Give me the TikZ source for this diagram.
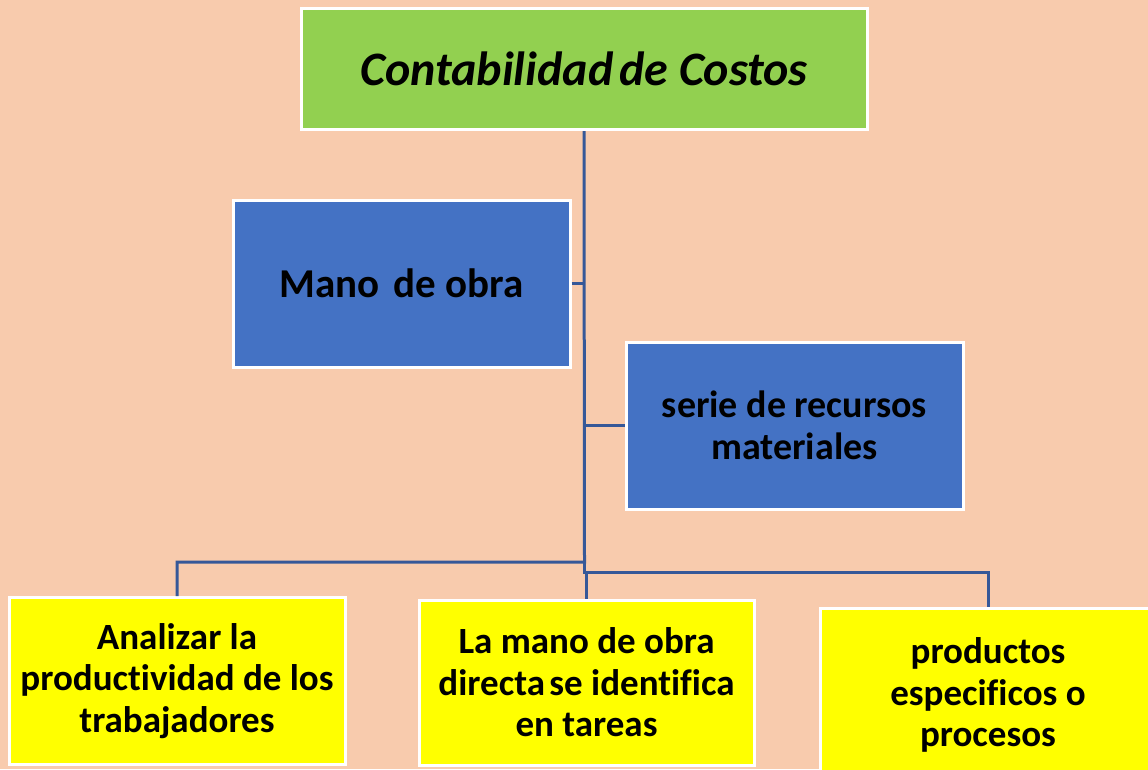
\documentclass[tikz,border=0pt]{standalone}
\usepackage{fontspec}
\setmainfont[Ligatures=NoCommon]{Carlito}
\definecolor{bgpeach}{RGB}{248,203,173}
\definecolor{titlegreen}{RGB}{146,208,80}
\definecolor{boxblue}{RGB}{68,114,196}
\definecolor{boxyellow}{RGB}{255,255,0}
\definecolor{linkblue}{RGB}{54,88,152}
\tikzset{
  card/.style={draw=white, line width=3pt, rectangle, inner sep=0pt, align=center, font=\bfseries},
  titlecard/.style={card, fill=titlegreen, minimum width=566pt, minimum height=121pt,
     font=\bfseries\itshape\fontsize{48}{54}\selectfont},
  bluecard/.style={card, fill=boxblue, minimum width=337pt, minimum height=167pt},
  yellowcard/.style={card, fill=boxyellow, minimum width=336pt, minimum height=167pt,
     font=\bfseries\fontsize{37}{41.5}\selectfont},
  link/.style={draw=linkblue, line width=3pt}
}
\begin{document}
\begin{tikzpicture}[x=1pt,y=-1pt]
\useasboundingbox (0,0) rectangle (1148,769);
\clip (0,0) rectangle (1148,769);
\fill[bgpeach] (0,0) rectangle (1148,769);

\node[titlecard] (title) at (584,69) {Contabilidad\hspace{0.12em}de Costos};
\node[bluecard, font=\bfseries\fontsize{41}{46}\selectfont] (mano) at (401.5,283.5) {Mano\hspace{0.12em} de obra};
\node[bluecard, font=\bfseries\fontsize{38}{42}\selectfont] (serie) at (794.5,425.5) {serie de recursos\\materiales};
\node[yellowcard] (y1) at (177,681) {Analizar la\\productividad de los\\trabajadores};
\node[yellowcard, minimum width=335pt, minimum height=165pt] (y2) at (586.5,682.5) {La mano de obra\\directa\hspace{0.12em}se identifica\\en tareas};
\node[yellowcard, minimum height=174pt] (y3) at (988,695) {productos\\especificos o\\procesos};

\coordinate (j1) at (584.5,562);
\coordinate (j2) at (586.5,572);

\draw[link] (title.south) -- (j1) -| (y1.north);
\draw[link] (j1) -- (j1 |- j2) -- (j2) -- (y2.north);
\draw[link] (j2) -| (y3.north);
\draw[link] (mano.east) -- (mano.east -| title.south);
\draw[link] (serie.west) -- (serie.west -| title.south);
\end{tikzpicture}
\end{document}
